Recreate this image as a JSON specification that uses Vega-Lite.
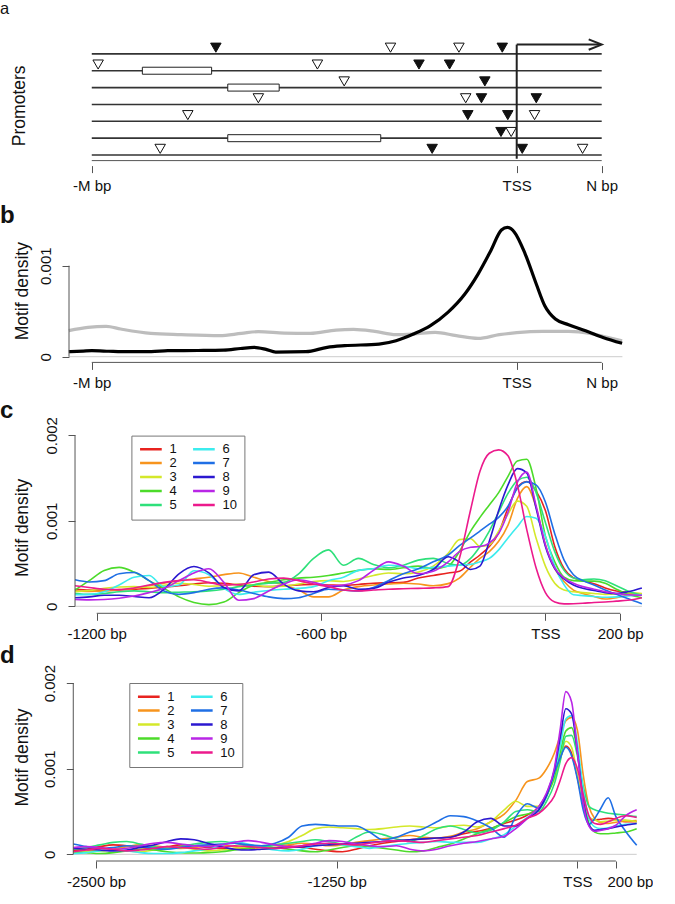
{
  "$schema": "https://vega.github.io/schema/vega-lite/v6.json",
  "padding": 0,
  "autosize": {"type": "pad"},
  "bounds": "flush",
  "spacing": 40,
  "background": "white",
  "resolve": {"scale": {"color": "independent"}, "legend": {"color": "independent"}},
  "config": {
    "view": {"stroke": null},
    "font": "Liberation Sans",
    "axis": {"grid": false, "labelFont": "Liberation Sans", "labelFontSize": 15, "labelColor": "#111", "titleFont": "Liberation Sans", "titleFontSize": 17.5, "titleFontWeight": "normal", "titleColor": "#111", "tickColor": "#555", "tickSize": 7, "tickWidth": 1, "domain": false, "labelFlush": false, "labelOverlap": false},
    "axisX": {"labelPadding": 6, "labelBaseline": "top"},
    "axisY": {"labelAngle": -90, "labelAlign": "center", "labelBaseline": "bottom", "labelPadding": 9, "titleAngle": -90, "titleAlign": "center", "titleBaseline": "middle"},
    "title": {"anchor": "start", "frame": "group", "offset": 0, "baseline": "alphabetic", "font": "Liberation Sans", "fontSize": 24, "fontWeight": "bold", "color": "#111"}
  },
  "vconcat": [
    {
      "width": 553.4,
      "height": 133.6,
      "title": {"text": "a", "dx": -69, "dy": -11, "fontSize": 16.5, "fontWeight": "normal"},
      "layer": [
        {
          "data": {"values": [{"row": 1}, {"row": 2}, {"row": 3}, {"row": 4}, {"row": 5}, {"row": 6}, {"row": 7}]},
          "mark": {"type": "rule", "color": "#333", "strokeWidth": 1.6},
          "encoding": {
            "x": {"datum": -1000, "type": "quantitative", "scale": {"domain": [-1053.6, 248.7], "nice": false, "zero": false},
                  "axis": {"values": [-1000, 0, 200], "labelExpr": "datum.value == -1000 ? '-M bp' : datum.value == 0 ? 'TSS' : 'N bp'", "title": null}},
            "x2": {"datum": 200},
            "y": {"field": "row", "type": "quantitative", "scale": {"domain": [0, 7.33], "reverse": true, "nice": false, "zero": false},
                  "axis": {"title": "Promoters", "labels": false, "ticks": false, "titleX": -49.6, "titleY": 73.3}}
          }
        },
        {
          "data": {"values": [{"row": 2, "start": -881, "end": -718}, {"row": 3, "start": -680, "end": -559}, {"row": 6, "start": -680, "end": -320}]},
          "mark": {"type": "bar", "size": 7, "fill": "white", "stroke": "#222", "strokeWidth": 1},
          "encoding": {
            "x": {"field": "start", "type": "quantitative"},
            "x2": {"field": "end"},
            "y": {"field": "row", "type": "quantitative"}
          }
        },
        {
          "data": {"values": [
            {"row": 1, "pos": -708, "kind": "filled"}, {"row": 1, "pos": -297, "kind": "open"}, {"row": 1, "pos": -136, "kind": "open"}, {"row": 1, "pos": -34, "kind": "filled"},
            {"row": 2, "pos": -985, "kind": "open"}, {"row": 2, "pos": -469, "kind": "open"}, {"row": 2, "pos": -230, "kind": "filled"}, {"row": 2, "pos": -158, "kind": "filled"},
            {"row": 3, "pos": -406, "kind": "open"}, {"row": 3, "pos": -75, "kind": "filled"},
            {"row": 4, "pos": -608, "kind": "open"}, {"row": 4, "pos": -120, "kind": "open"}, {"row": 4, "pos": -83, "kind": "filled"}, {"row": 4, "pos": 46, "kind": "filled"},
            {"row": 5, "pos": -774, "kind": "open"}, {"row": 5, "pos": -115, "kind": "filled"}, {"row": 5, "pos": -21, "kind": "filled"}, {"row": 5, "pos": 42, "kind": "open"},
            {"row": 6, "pos": -37, "kind": "filled"}, {"row": 6, "pos": -13, "kind": "open"},
            {"row": 7, "pos": -839, "kind": "open"}, {"row": 7, "pos": -199, "kind": "filled"}, {"row": 7, "pos": 13, "kind": "filled"}, {"row": 7, "pos": 155, "kind": "open"}
          ]},
          "mark": {"type": "point", "shape": "triangle-down", "size": 110, "filled": true, "stroke": "#111", "strokeWidth": 1, "yOffset": -6.2, "opacity": 1},
          "encoding": {
            "x": {"field": "pos", "type": "quantitative"},
            "y": {"field": "row", "type": "quantitative"},
            "fill": {"field": "kind", "type": "nominal", "scale": {"domain": ["filled", "open"], "range": ["#111111", "#ffffff"]}, "legend": null}
          }
        },
        {
          "data": {"values": [{}]},
          "mark": {"type": "rule", "color": "#222", "strokeWidth": 2},
          "encoding": {"x": {"datum": 0}, "y": {"datum": 0.45}, "y2": {"datum": 7.22}}
        },
        {
          "data": {"values": [{}]},
          "mark": {"type": "rule", "color": "#222", "strokeWidth": 2},
          "encoding": {"x": {"datum": 0}, "x2": {"datum": 197}, "y": {"datum": 0.45}}
        },
        {
          "data": {"values": [{}]},
          "mark": {"type": "point", "shape": "M-1,-0.4L0,0L-1,0.4", "size": 676, "filled": false, "color": "#222", "strokeWidth": 2, "opacity": 1},
          "encoding": {"x": {"datum": 200}, "y": {"datum": 0.45}}
        },
        {
          "data": {"values": [{}]},
          "mark": {"type": "rule", "color": "#555", "strokeWidth": 1},
          "encoding": {"x": {"datum": -1000}, "x2": {"datum": 200}, "y": {"datum": 7.33}}
        }
      ]
    },
    {
      "width": 553.4,
      "height": 156.4,
      "title": {"text": "b", "dx": -69, "dy": 25.7},
      "layer": [
        {
          "data": {"values": [{}]},
          "mark": {"type": "rule", "color": "#cccccc", "strokeWidth": 1},
          "encoding": {
            "x": {"datum": -1053.6, "type": "quantitative", "scale": {"domain": [-1053.6, 248.7], "nice": false, "zero": false},
                  "axis": {"values": [-1000, 0, 200], "labelExpr": "datum.value == -1000 ? '-M bp' : datum.value == 0 ? 'TSS' : 'N bp'", "title": null}},
            "x2": {"datum": 248.7},
            "y": {"datum": 0, "type": "quantitative", "scale": {"domain": [-0.0000626, 0.001656], "nice": false, "zero": false},
                  "axis": {"values": [0, 0.001], "labelExpr": "datum.value == 0 ? '0' : '0.001'", "title": "Motif density", "titleX": -47, "titleY": 84.7}}
          }
        },
        {
          "data": {"values": [
            {"x": -1054, "y": 0.000286}, {"x": -1009, "y": 0.000322}, {"x": -966, "y": 0.000333}, {"x": -932, "y": 0.000304},
            {"x": -861, "y": 0.000256}, {"x": -790, "y": 0.000242}, {"x": -699, "y": 0.000231}, {"x": -648, "y": 0.000256},
            {"x": -608, "y": 0.000275}, {"x": -547, "y": 0.00026}, {"x": -486, "y": 0.000256}, {"x": -425, "y": 0.000293},
            {"x": -384, "y": 0.0003}, {"x": -334, "y": 0.000278}, {"x": -284, "y": 0.000242}, {"x": -243, "y": 0.000249},
            {"x": -192, "y": 0.000267}, {"x": -142, "y": 0.000231}, {"x": -91, "y": 0.000201}, {"x": -41, "y": 0.000242},
            {"x": 0, "y": 0.000264}, {"x": 61, "y": 0.000278}, {"x": 122, "y": 0.000278}, {"x": 173, "y": 0.000256},
            {"x": 213, "y": 0.000212}, {"x": 248, "y": 0.000175}
          ]},
          "mark": {"type": "line", "color": "#bdbdbd", "strokeWidth": 3.2, "interpolate": "monotone"},
          "encoding": {"x": {"field": "x", "type": "quantitative"}, "y": {"field": "y", "type": "quantitative"}}
        },
        {
          "data": {"values": [
            {"x": -1054, "y": 0.000055}, {"x": -1020, "y": 0.000062}, {"x": -1000, "y": 0.000066}, {"x": -960, "y": 0.00006},
            {"x": -930, "y": 0.000055}, {"x": -860, "y": 0.000056}, {"x": -821, "y": 0.000066}, {"x": -750, "y": 0.000068},
            {"x": -690, "y": 0.000072}, {"x": -650, "y": 0.00009}, {"x": -618, "y": 0.000103}, {"x": -590, "y": 0.00008},
            {"x": -567, "y": 0.000051}, {"x": -496, "y": 0.000055}, {"x": -446, "y": 0.000103}, {"x": -405, "y": 0.000121},
            {"x": -324, "y": 0.000139}, {"x": -284, "y": 0.000176}, {"x": -243, "y": 0.000249}, {"x": -203, "y": 0.000341},
            {"x": -162, "y": 0.000487}, {"x": -122, "y": 0.000689}, {"x": -91, "y": 0.000908}, {"x": -61, "y": 0.001165},
            {"x": -36, "y": 0.001392}, {"x": -22, "y": 0.001421}, {"x": -5, "y": 0.001366}, {"x": 20, "y": 0.001128},
            {"x": 46, "y": 0.000799}, {"x": 66, "y": 0.00056}, {"x": 91, "y": 0.000414}, {"x": 122, "y": 0.000352},
            {"x": 162, "y": 0.000286}, {"x": 203, "y": 0.000212}, {"x": 248, "y": 0.000147}
          ]},
          "mark": {"type": "line", "color": "#000000", "strokeWidth": 3.2, "interpolate": "monotone"},
          "encoding": {"x": {"field": "x", "type": "quantitative"}, "y": {"field": "y", "type": "quantitative"}}
        },
        {
          "data": {"values": [{}]},
          "mark": {"type": "rule", "color": "#555", "strokeWidth": 1},
          "encoding": {"x": {"datum": -1053.6}, "y": {"datum": 0}, "y2": {"datum": 0.001}}
        },
        {
          "data": {"values": [{}]},
          "mark": {"type": "rule", "color": "#555", "strokeWidth": 1},
          "encoding": {"x": {"datum": -1000}, "x2": {"datum": 200}, "y": {"datum": -0.0000626}}
        }
      ]
    },
    {
      "width": 572.9,
      "height": 210.3,
      "title": {"text": "c", "dx": -69, "dy": 24},
      "layer": [
        {
          "data": {"values": [{}]},
          "mark": {"type": "rule", "color": "#cccccc", "strokeWidth": 1},
          "encoding": {
            "x": {"datum": -1258, "type": "quantitative", "scale": {"domain": [-1274.1, 258.1], "nice": false, "zero": false},
                  "axis": {"values": [-1200, -600, 0, 200], "labelExpr": "datum.value == 0 ? 'TSS' : datum.value + ' bp'", "title": null}},
            "x2": {"datum": 258.1},
            "y": {"datum": 0, "type": "quantitative", "scale": {"domain": [-0.0000819, 0.002378], "nice": false, "zero": false},
                  "axis": {"values": [0, 0.001, 0.002], "labelExpr": "datum.value == 0 ? '0' : datum.value < 0.0015 ? '0.001' : '0.002'", "title": "Motif density", "offset": -6, "titleX": -53, "titleY": 124.3}}
          }
        },
        {
          "data": {"values": [
            {"x": -1258, "1": 0.0002, "2": 0.00018, "3": 0.00017, "4": 0.00019, "5": 0.00015, "6": 0.000136, "7": 0.00031, "8": 0.0001, "9": 0.00008, "10": 0.00024},
            {"x": -1220, "1": 0.00019, "2": 0.000175, "3": 0.000185, "4": 0.0003, "5": 0.00014, "6": 0.00014, "7": 0.000285, "8": 0.00011, "9": 0.000075, "10": 0.00022},
            {"x": -1180, "1": 0.000185, "2": 0.00018, "3": 0.00021, "4": 0.00042, "5": 0.00015, "6": 0.00017, "7": 0.0003, "8": 0.00013, "9": 0.00008, "10": 0.0002},
            {"x": -1140, "1": 0.00019, "2": 0.000195, "3": 0.000225, "4": 0.000455, "5": 0.00017, "6": 0.00025, "7": 0.00038, "8": 0.00013, "9": 0.000095, "10": 0.000195},
            {"x": -1100, "1": 0.0002, "2": 0.00021, "3": 0.00023, "4": 0.0004, "5": 0.00018, "6": 0.00034, "7": 0.000395, "8": 0.000115, "9": 0.00012, "10": 0.000215},
            {"x": -1060, "1": 0.00021, "2": 0.00024, "3": 0.00022, "4": 0.0003, "5": 0.00017, "6": 0.00036, "7": 0.0003, "8": 0.0001, "9": 0.00016, "10": 0.00025},
            {"x": -1020, "1": 0.000225, "2": 0.00027, "3": 0.000245, "4": 0.00021, "5": 0.00016, "6": 0.00023, "7": 0.00018, "8": 0.0002, "9": 0.00021, "10": 0.00028},
            {"x": -980, "1": 0.00024, "2": 0.0003, "3": 0.00027, "4": 0.00011, "5": 0.000165, "6": 0.00025, "7": 0.00014, "8": 0.00038, "9": 0.0003, "10": 0.0003},
            {"x": -940, "1": 0.00026, "2": 0.00032, "3": 0.000255, "4": 0.000045, "5": 0.00017, "6": 0.000415, "7": 0.00016, "8": 0.000465, "9": 0.00039, "10": 0.00031},
            {"x": -900, "1": 0.000275, "2": 0.00034, "3": 0.000235, "4": 0.00002, "5": 0.00018, "6": 0.00037, "7": 0.0002, "8": 0.00039, "9": 0.00044, "10": 0.00028},
            {"x": -860, "1": 0.00027, "2": 0.00037, "3": 0.00024, "4": 0.00005, "5": 0.0002, "6": 0.00021, "7": 0.000215, "8": 0.00022, "9": 0.00028, "10": 0.00025},
            {"x": -820, "1": 0.00025, "2": 0.00039, "3": 0.00026, "4": 0.00016, "5": 0.00023, "6": 0.00014, "7": 0.00019, "8": 0.00018, "9": 0.00007, "10": 0.000255},
            {"x": -780, "1": 0.000235, "2": 0.00034, "3": 0.00025, "4": 0.00025, "5": 0.00025, "6": 0.000165, "7": 0.00015, "8": 0.00037, "9": 0.00009, "10": 0.000285},
            {"x": -740, "1": 0.00023, "2": 0.00029, "3": 0.00023, "4": 0.00028, "5": 0.00027, "6": 0.000185, "7": 0.00011, "8": 0.0004, "9": 0.00018, "10": 0.00032},
            {"x": -700, "1": 0.00024, "2": 0.00025, "3": 0.000235, "4": 0.00031, "5": 0.00028, "6": 0.0002, "7": 0.00009, "8": 0.00026, "9": 0.00026, "10": 0.00033},
            {"x": -660, "1": 0.00025, "2": 0.00019, "3": 0.00026, "4": 0.00033, "5": 0.00038, "6": 0.00021, "7": 0.0001, "8": 0.00018, "9": 0.00031, "10": 0.0003},
            {"x": -620, "1": 0.000255, "2": 0.00011, "3": 0.00029, "4": 0.00034, "5": 0.00056, "6": 0.00023, "7": 0.00015, "8": 0.00017, "9": 0.00028, "10": 0.00026},
            {"x": -580, "1": 0.00025, "2": 0.00011, "3": 0.0003, "4": 0.00036, "5": 0.00066, "6": 0.0003, "7": 0.0002, "8": 0.00022, "9": 0.00024, "10": 0.00023},
            {"x": -540, "1": 0.000245, "2": 0.00019, "3": 0.00029, "4": 0.00039, "5": 0.00048, "6": 0.00034, "7": 0.00019, "8": 0.00024, "9": 0.00025, "10": 0.00019},
            {"x": -500, "1": 0.000255, "2": 0.00023, "3": 0.00032, "4": 0.00042, "5": 0.00056, "6": 0.00042, "7": 0.00018, "8": 0.0002, "9": 0.0003, "10": 0.00018},
            {"x": -460, "1": 0.00027, "2": 0.00025, "3": 0.00036, "4": 0.00044, "5": 0.00049, "6": 0.00044, "7": 0.00022, "8": 0.00021, "9": 0.00042, "10": 0.00019},
            {"x": -420, "1": 0.000275, "2": 0.00026, "3": 0.00039, "4": 0.00043, "5": 0.00045, "6": 0.00048, "7": 0.0003, "8": 0.00028, "9": 0.00052, "10": 0.0002},
            {"x": -380, "1": 0.00028, "2": 0.00027, "3": 0.00038, "4": 0.00045, "5": 0.00048, "6": 0.00047, "7": 0.00038, "8": 0.00033, "9": 0.00047, "10": 0.000205},
            {"x": -340, "1": 0.00033, "2": 0.00026, "3": 0.0004, "4": 0.00047, "5": 0.00054, "6": 0.00044, "7": 0.00044, "8": 0.00036, "9": 0.00038, "10": 0.00021},
            {"x": -300, "1": 0.00036, "2": 0.00024, "3": 0.00047, "4": 0.00044, "5": 0.00056, "6": 0.000455, "7": 0.00052, "8": 0.00043, "9": 0.00041, "10": 0.000215},
            {"x": -260, "1": 0.00039, "2": 0.000265, "3": 0.00062, "4": 0.00047, "5": 0.0005, "6": 0.00047, "7": 0.0006, "8": 0.00058, "9": 0.00052, "10": 0.00023},
            {"x": -230, "1": 0.00041, "2": 0.00033, "3": 0.00078, "4": 0.00064, "5": 0.00048, "6": 0.00048, "7": 0.00071, "8": 0.00052, "9": 0.00064, "10": 0.00056},
            {"x": -200, "1": 0.00052, "2": 0.00046, "3": 0.00079, "4": 0.00088, "5": 0.00056, "6": 0.00049, "7": 0.0008, "8": 0.00043, "9": 0.00069, "10": 0.00113},
            {"x": -175, "1": 0.0006, "2": 0.00056, "3": 0.0007, "4": 0.00104, "5": 0.0007, "6": 0.00052, "7": 0.00088, "8": 0.00047, "9": 0.0007, "10": 0.00158},
            {"x": -150, "1": 0.0007, "2": 0.00064, "3": 0.00072, "4": 0.001185, "5": 0.00088, "6": 0.00056, "7": 0.00096, "8": 0.00076, "9": 0.00074, "10": 0.00179},
            {"x": -125, "1": 0.00086, "2": 0.00076, "3": 0.00088, "4": 0.00133, "5": 0.0011, "6": 0.00066, "7": 0.00104, "8": 0.00112, "9": 0.00085, "10": 0.00183},
            {"x": -100, "1": 0.00115, "2": 0.00095, "3": 0.00108, "4": 0.00152, "5": 0.00132, "6": 0.0008, "7": 0.00117, "8": 0.00142, "9": 0.0011, "10": 0.00176},
            {"x": -75, "1": 0.00139, "2": 0.00126, "3": 0.00123, "4": 0.0017, "5": 0.00147, "6": 0.00093, "7": 0.00138, "8": 0.00161, "9": 0.00145, "10": 0.00142},
            {"x": -50, "1": 0.00146, "2": 0.0014, "3": 0.00117, "4": 0.00172, "5": 0.00151, "6": 0.00105, "7": 0.001455, "8": 0.00156, "9": 0.00157, "10": 0.0009},
            {"x": -25, "1": 0.00135, "2": 0.00116, "3": 0.0008, "4": 0.00138, "5": 0.00133, "6": 0.00103, "7": 0.00142, "8": 0.00115, "9": 0.00118, "10": 0.00045},
            {"x": 0, "1": 0.00112, "2": 0.00072, "3": 0.00047, "4": 0.00082, "5": 0.00098, "6": 0.00082, "7": 0.00122, "8": 0.0007, "9": 0.00072, "10": 0.00016},
            {"x": 25, "1": 0.0007, "2": 0.00044, "3": 0.00027, "4": 0.00052, "5": 0.00064, "6": 0.00047, "7": 0.00085, "8": 0.00044, "9": 0.00045, "10": 0.00005},
            {"x": 50, "1": 0.00044, "2": 0.00029, "3": 0.00019, "4": 0.00034, "5": 0.00042, "6": 0.00025, "7": 0.00054, "8": 0.00032, "9": 0.00033, "10": 0.000028},
            {"x": 75, "1": 0.000335, "2": 0.00019, "3": 0.00017, "4": 0.0003, "5": 0.00033, "6": 0.000135, "7": 0.00037, "8": 0.00025, "9": 0.00027, "10": 0.00003},
            {"x": 100, "1": 0.0003, "2": 0.00015, "3": 0.00016, "4": 0.000295, "5": 0.00031, "6": 0.000125, "7": 0.0003, "8": 0.00021, "9": 0.00023, "10": 0.000035},
            {"x": 130, "1": 0.000265, "2": 0.000115, "3": 0.00015, "4": 0.000295, "5": 0.00032, "6": 0.000115, "7": 0.00025, "8": 0.000185, "9": 0.0002, "10": 0.000045},
            {"x": 160, "1": 0.000215, "2": 0.000085, "3": 0.00014, "4": 0.00027, "5": 0.0003, "6": 0.000105, "7": 0.00019, "8": 0.00016, "9": 0.00017, "10": 0.00005},
            {"x": 190, "1": 0.00018, "2": 0.0001, "3": 0.000145, "4": 0.0002, "5": 0.00024, "6": 0.00011, "7": 0.00014, "8": 0.00015, "9": 0.00015, "10": 0.00006},
            {"x": 220, "1": 0.00016, "2": 0.00013, "3": 0.00016, "4": 0.00014, "5": 0.00018, "6": 0.00012, "7": 0.00009, "8": 0.00017, "9": 0.000135, "10": 0.00007},
            {"x": 258, "1": 0.000135, "2": 0.000145, "3": 0.00015, "4": 0.0001, "5": 0.00013, "6": 0.000135, "7": 0.00003, "8": 0.000215, "9": 0.00013, "10": 0.0001}
          ]},
          "transform": [{"fold": ["1", "2", "3", "4", "5", "6", "7", "8", "9", "10"], "as": ["series", "density"]}],
          "mark": {"type": "line", "strokeWidth": 1.6, "interpolate": "monotone"},
          "encoding": {
            "x": {"field": "x", "type": "quantitative"},
            "y": {"field": "density", "type": "quantitative"},
            "color": {"field": "series", "type": "nominal",
              "scale": {"domain": ["1", "2", "3", "4", "5", "6", "7", "8", "9", "10"], "range": ["#E8231F", "#F7941D", "#D4E82A", "#4CDB2A", "#2EE07A", "#3CECEE", "#1F6FE5", "#2B18D0", "#B926E6", "#EC1A8C"]},
              "legend": {"orient": "none", "legendX": 62.4, "legendY": 32.6, "columns": 2, "title": null, "symbolType": "stroke", "symbolSize": 470, "symbolStrokeWidth": 2.5, "clipHeight": 13, "rowPadding": 0, "columnPadding": 14, "labelFontSize": 13, "labelFont": "Liberation Sans", "labelColor": "#111", "labelOffset": 6, "padding": 7, "strokeColor": "#777", "fillColor": "white", "symbolOffset": 0}}
          }
        },
        {
          "data": {"values": [{}]},
          "mark": {"type": "rule", "color": "#555", "strokeWidth": 1},
          "encoding": {"x": {"datum": -1258}, "y": {"datum": 0}, "y2": {"datum": 0.002}}
        },
        {
          "data": {"values": [{}]},
          "mark": {"type": "rule", "color": "#555", "strokeWidth": 1},
          "encoding": {"x": {"datum": -1200}, "x2": {"datum": 200}, "y": {"datum": -0.0000819}}
        }
      ]
    },
    {
      "width": 567.7,
      "height": 207,
      "title": {"text": "d", "dx": -69, "dy": 17.7},
      "layer": [
        {
          "data": {"values": [{}]},
          "mark": {"type": "rule", "color": "#cccccc", "strokeWidth": 1},
          "encoding": {
            "x": {"datum": -2618, "type": "quantitative", "scale": {"domain": [-2640.2, 308], "nice": false, "zero": false},
                  "axis": {"values": [-2500, -1250, 0, 200], "labelExpr": "datum.value == 0 ? 'TSS' : datum.value + ' bp'", "title": null,
                           "labelOffset": {"condition": {"test": "datum.value == 200", "value": 14}, "value": 0}}},
            "x2": {"datum": 308},
            "y": {"datum": 0, "type": "quantitative", "scale": {"domain": [-0.000078, 0.00234], "nice": false, "zero": false},
                  "axis": {"values": [0, 0.001, 0.002], "labelExpr": "datum.value == 0 ? '0' : datum.value < 0.0015 ? '0.001' : '0.002'", "title": "Motif density", "offset": -4.3, "titleX": -51.3, "titleY": 103}}
          }
        },
        {
          "data": {"values": [
            {"x": -2618, "1": 0.00004, "2": 0.00006, "3": 0.00002, "4": 0.00003, "5": 0.00006, "6": 0.00001, "7": 0.00012, "8": 0.00007, "9": 0.00008, "10": 0.00003},
            {"x": -2550, "1": 0.00006, "2": 0.00005, "3": 0.00003, "4": 0.00002, "5": 0.00008, "6": 0.00002, "7": 0.00009, "8": 0.00006, "9": 0.00009, "10": 0.00005},
            {"x": -2480, "1": 0.00009, "2": 0.00004, "3": 0.00004, "4": 0.00001, "5": 0.00011, "6": 0.00004, "7": 0.00007, "8": 0.00005, "9": 0.00008, "10": 0.00007},
            {"x": -2410, "1": 0.00011, "2": 0.00006, "3": 0.00005, "4": 0.00002, "5": 0.00014, "6": 0.00005, "7": 0.00008, "8": 0.00004, "9": 0.00006, "10": 0.00006},
            {"x": -2340, "1": 0.0001, "2": 0.00009, "3": 0.00004, "4": 0.00004, "5": 0.00015, "6": 0.00004, "7": 0.0001, "8": 0.00005, "9": 0.00007, "10": 0.00004},
            {"x": -2270, "1": 0.00008, "2": 0.00011, "3": 0.00003, "4": 0.00006, "5": 0.00012, "6": 0.00002, "7": 0.00009, "8": 0.00008, "9": 0.0001, "10": 0.00005},
            {"x": -2200, "1": 0.00007, "2": 0.0001, "3": 0.00005, "4": 0.00005, "5": 0.00009, "6": 0.00001, "7": 0.00007, "8": 0.00011, "9": 0.00013, "10": 0.00007},
            {"x": -2130, "1": 0.00009, "2": 0.00008, "3": 0.00007, "4": 0.00003, "5": 0.00007, "6": 0.00001, "7": 0.00006, "8": 0.00015, "9": 0.00014, "10": 0.00009},
            {"x": -2060, "1": 0.00011, "2": 0.00007, "3": 0.00008, "4": 0.00002, "5": 0.00009, "6": 0.00002, "7": 0.00008, "8": 0.00018, "9": 0.00012, "10": 0.00008},
            {"x": -1990, "1": 0.0001, "2": 0.00008, "3": 0.00006, "4": 0.000015, "5": 0.00012, "6": 0.00004, "7": 0.0001, "8": 0.00017, "9": 0.0001, "10": 0.00007},
            {"x": -1920, "1": 0.00008, "2": 0.0001, "3": 0.00004, "4": 0.00002, "5": 0.00014, "6": 0.00006, "7": 0.00011, "8": 0.00013, "9": 0.00009, "10": 0.00006},
            {"x": -1850, "1": 0.00007, "2": 0.00011, "3": 0.00005, "4": 0.00003, "5": 0.00015, "6": 0.0001, "7": 0.00012, "8": 0.00009, "9": 0.00011, "10": 0.00008},
            {"x": -1780, "1": 0.00006, "2": 0.00009, "3": 0.00007, "4": 0.00005, "5": 0.00013, "6": 0.00015, "7": 0.00013, "8": 0.00006, "9": 0.00014, "10": 0.0001},
            {"x": -1710, "1": 0.00007, "2": 0.00007, "3": 0.00009, "4": 0.00007, "5": 0.0001, "6": 0.00012, "7": 0.00011, "8": 0.00005, "9": 0.00016, "10": 0.00009},
            {"x": -1640, "1": 0.00009, "2": 0.00006, "3": 0.0001, "4": 0.00009, "5": 0.00009, "6": 0.00008, "7": 0.0001, "8": 0.00006, "9": 0.00014, "10": 0.00008},
            {"x": -1570, "1": 0.00011, "2": 0.00008, "3": 0.00011, "4": 0.00008, "5": 0.00011, "6": 0.00005, "7": 0.00013, "8": 0.00007, "9": 0.00011, "10": 0.00007},
            {"x": -1500, "1": 0.0001, "2": 0.00011, "3": 0.00015, "4": 0.00006, "5": 0.00013, "6": 0.00004, "7": 0.0002, "8": 0.00008, "9": 0.00009, "10": 0.00008},
            {"x": -1430, "1": 0.00008, "2": 0.00013, "3": 0.00022, "4": 0.00004, "5": 0.00015, "6": 0.00006, "7": 0.00033, "8": 0.00009, "9": 0.0001, "10": 0.0001},
            {"x": -1360, "1": 0.00006, "2": 0.00012, "3": 0.0003, "4": 0.00003, "5": 0.00017, "6": 0.0001, "7": 0.00035, "8": 0.0001, "9": 0.00013, "10": 0.00012},
            {"x": -1290, "1": 0.00004, "2": 0.0001, "3": 0.00032, "4": 0.00005, "5": 0.00015, "6": 0.00013, "7": 0.00034, "8": 0.00011, "9": 0.00016, "10": 0.00013},
            {"x": -1220, "1": 0.00003, "2": 0.00011, "3": 0.00031, "4": 0.00008, "5": 0.00012, "6": 0.00011, "7": 0.00033, "8": 0.00012, "9": 0.00015, "10": 0.00012},
            {"x": -1150, "1": 0.00006, "2": 0.00014, "3": 0.0003, "4": 0.0001, "5": 0.0002, "6": 0.00009, "7": 0.00033, "8": 0.00013, "9": 0.00012, "10": 0.00011},
            {"x": -1080, "1": 0.0001, "2": 0.00016, "3": 0.00029, "4": 0.00009, "5": 0.00026, "6": 0.00007, "7": 0.00026, "8": 0.00014, "9": 0.0001, "10": 0.00013},
            {"x": -1010, "1": 0.00013, "2": 0.00018, "3": 0.0003, "4": 0.00007, "5": 0.00023, "6": 0.00009, "7": 0.00017, "8": 0.00015, "9": 0.00009, "10": 0.00015},
            {"x": -940, "1": 0.00015, "2": 0.0002, "3": 0.00032, "4": 0.00005, "5": 0.00018, "6": 0.00011, "7": 0.0002, "8": 0.00016, "9": 0.0001, "10": 0.00016},
            {"x": -870, "1": 0.00017, "2": 0.00022, "3": 0.00033, "4": 0.00003, "5": 0.00015, "6": 0.00013, "7": 0.00026, "8": 0.00017, "9": 0.00006, "10": 0.00015},
            {"x": -800, "1": 0.00018, "2": 0.0002, "3": 0.00032, "4": 0.00004, "5": 0.00022, "6": 0.00014, "7": 0.0003, "8": 0.00018, "9": 0.00004, "10": 0.00014},
            {"x": -730, "1": 0.00019, "2": 0.00019, "3": 0.00031, "4": 0.00008, "5": 0.0003, "6": 0.00015, "7": 0.00038, "8": 0.00019, "9": 0.00006, "10": 0.00016},
            {"x": -660, "1": 0.0002, "2": 0.00021, "3": 0.00033, "4": 0.00012, "5": 0.00033, "6": 0.00014, "7": 0.00045, "8": 0.0002, "9": 0.0001, "10": 0.00018},
            {"x": -590, "1": 0.00024, "2": 0.00026, "3": 0.00034, "4": 0.00018, "5": 0.00029, "6": 0.00014, "7": 0.00044, "8": 0.00026, "9": 0.00013, "10": 0.0002},
            {"x": -520, "1": 0.00027, "2": 0.0003, "3": 0.00032, "4": 0.00024, "5": 0.00025, "6": 0.00014, "7": 0.00039, "8": 0.00038, "9": 0.00015, "10": 0.00022},
            {"x": -450, "1": 0.0003, "2": 0.00038, "3": 0.00038, "4": 0.0003, "5": 0.00028, "6": 0.00018, "7": 0.00031, "8": 0.00042, "9": 0.00018, "10": 0.00026},
            {"x": -380, "1": 0.00036, "2": 0.00047, "3": 0.00052, "4": 0.00037, "5": 0.00038, "6": 0.00023, "7": 0.0002, "8": 0.00033, "9": 0.00021, "10": 0.0003},
            {"x": -320, "1": 0.0004, "2": 0.00063, "3": 0.00062, "4": 0.00044, "5": 0.0005, "6": 0.00033, "7": 0.00044, "8": 0.00033, "9": 0.0003, "10": 0.00034},
            {"x": -260, "1": 0.00046, "2": 0.00085, "3": 0.00056, "4": 0.00047, "5": 0.00052, "6": 0.00043, "7": 0.00059, "8": 0.00042, "9": 0.00042, "10": 0.00042},
            {"x": -200, "1": 0.00056, "2": 0.00089, "3": 0.00056, "4": 0.00052, "5": 0.0005, "6": 0.00052, "7": 0.00054, "8": 0.00052, "9": 0.00056, "10": 0.00048},
            {"x": -160, "1": 0.0007, "2": 0.001, "3": 0.0007, "4": 0.00068, "5": 0.00062, "6": 0.0007, "7": 0.00068, "8": 0.0007, "9": 0.00072, "10": 0.00056},
            {"x": -120, "1": 0.0009, "2": 0.00118, "3": 0.00088, "4": 0.0009, "5": 0.00082, "6": 0.00095, "7": 0.00095, "8": 0.00098, "9": 0.001, "10": 0.00068},
            {"x": -90, "1": 0.00112, "2": 0.00138, "3": 0.0011, "4": 0.00118, "5": 0.00108, "6": 0.00125, "7": 0.00112, "8": 0.00135, "9": 0.00145, "10": 0.00086},
            {"x": -60, "1": 0.001265, "2": 0.00156, "3": 0.00132, "4": 0.00144, "5": 0.00138, "6": 0.00158, "7": 0.00125, "8": 0.0017, "9": 0.0019, "10": 0.00106},
            {"x": -30, "1": 0.00118, "2": 0.0016, "3": 0.00125, "4": 0.00148, "5": 0.00139, "6": 0.00162, "7": 0.00115, "8": 0.00164, "9": 0.00178, "10": 0.00113},
            {"x": 0, "1": 0.0009, "2": 0.00145, "3": 0.00093, "4": 0.0012, "5": 0.00115, "6": 0.0013, "7": 0.00088, "8": 0.0012, "9": 0.0012, "10": 0.001},
            {"x": 30, "1": 0.00058, "2": 0.00093, "3": 0.00062, "4": 0.00072, "5": 0.0008, "6": 0.00076, "7": 0.00052, "8": 0.00064, "9": 0.0006, "10": 0.0007},
            {"x": 60, "1": 0.00042, "2": 0.00056, "3": 0.00044, "4": 0.00036, "5": 0.00056, "6": 0.00042, "7": 0.00035, "8": 0.00034, "9": 0.00033, "10": 0.00045},
            {"x": 90, "1": 0.0004, "2": 0.00042, "3": 0.0004, "4": 0.00026, "5": 0.00052, "6": 0.00032, "7": 0.00042, "8": 0.00028, "9": 0.00027, "10": 0.00036},
            {"x": 120, "1": 0.00041, "2": 0.00037, "3": 0.00038, "4": 0.00024, "5": 0.0005, "6": 0.0003, "7": 0.00053, "8": 0.00029, "9": 0.00028, "10": 0.00035},
            {"x": 160, "1": 0.00042, "2": 0.00036, "3": 0.00039, "4": 0.00024, "5": 0.00048, "6": 0.00031, "7": 0.00066, "8": 0.0003, "9": 0.0003, "10": 0.00038},
            {"x": 200, "1": 0.00041, "2": 0.000375, "3": 0.0004, "4": 0.00025, "5": 0.00047, "6": 0.00033, "7": 0.00044, "8": 0.00032, "9": 0.00034, "10": 0.00042},
            {"x": 250, "1": 0.00038, "2": 0.000385, "3": 0.0004, "4": 0.00026, "5": 0.00046, "6": 0.00035, "7": 0.00027, "8": 0.00034, "9": 0.00045, "10": 0.00045},
            {"x": 308, "1": 0.00038, "2": 0.000395, "3": 0.00038, "4": 0.0003, "5": 0.00044, "6": 0.00036, "7": 0.000105, "8": 0.00036, "9": 0.00052, "10": 0.00043}
          ]},
          "transform": [{"fold": ["1", "2", "3", "4", "5", "6", "7", "8", "9", "10"], "as": ["series", "density"]}],
          "mark": {"type": "line", "strokeWidth": 1.6, "interpolate": "monotone"},
          "encoding": {
            "x": {"field": "x", "type": "quantitative"},
            "y": {"field": "density", "type": "quantitative"},
            "color": {"field": "series", "type": "nominal",
              "scale": {"domain": ["1", "2", "3", "4", "5", "6", "7", "8", "9", "10"], "range": ["#E8231F", "#F7941D", "#D4E82A", "#4CDB2A", "#2EE07A", "#3CECEE", "#1F6FE5", "#2B18D0", "#B926E6", "#EC1A8C"]},
              "legend": {"orient": "none", "legendX": 60.3, "legendY": 29, "columns": 2, "title": null, "symbolType": "stroke", "symbolSize": 470, "symbolStrokeWidth": 2.5, "clipHeight": 13, "rowPadding": 0, "columnPadding": 14, "labelFontSize": 13, "labelFont": "Liberation Sans", "labelColor": "#111", "labelOffset": 6, "padding": 7, "strokeColor": "#777", "fillColor": "white", "symbolOffset": 0}}
          }
        },
        {
          "data": {"values": [{}]},
          "mark": {"type": "rule", "color": "#555", "strokeWidth": 1},
          "encoding": {"x": {"datum": -2618}, "y": {"datum": 0}, "y2": {"datum": 0.002}}
        },
        {
          "data": {"values": [{}]},
          "mark": {"type": "rule", "color": "#555", "strokeWidth": 1},
          "encoding": {"x": {"datum": -2500}, "x2": {"datum": 200}, "y": {"datum": -0.000078}}
        }
      ]
    }
  ]
}
